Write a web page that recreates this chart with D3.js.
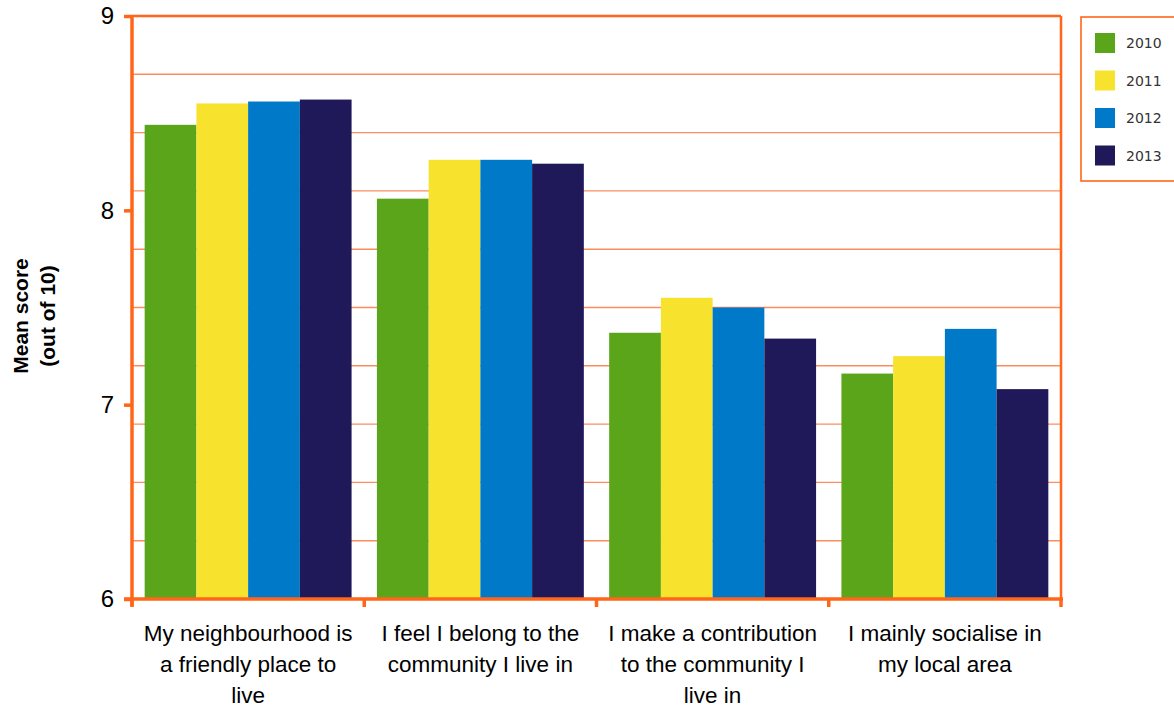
<!DOCTYPE html>
<html><head><meta charset="utf-8">
<script src="https://cdn.jsdelivr.net/npm/d3@7"></script>
<style>body{margin:0;background:#fff}svg{display:block}</style>
</head><body>
<svg id="c" width="1174" height="713"></svg>
<script>
const categories = [
  ["My neighbourhood is","a friendly place to","live"],
  ["I feel I belong to the","community I live in"],
  ["I make a contribution","to the community I","live in"],
  ["I mainly socialise in","my local area"]
];
const years = ["2010","2011","2012","2013"];
const v2010 = [8.44, 8.06, 7.37, 7.16];
const v2011 = [8.55, 8.26, 7.55, 7.25];
const v2012 = [8.56, 8.26, 7.50, 7.39];
const v2013 = [8.57, 8.24, 7.34, 7.08];
const yTicks = [6,7,8,9];
const gridVals = [6.3,6.6,6.9,7.2,7.5,7.8,8.1,8.4,8.7];
const colors = ["#5aa519","#f7e22e","#0079c8","#1f1859"];
const series = [v2010, v2011, v2012, v2013];

const svg = d3.select("#c");
const L = 132, R = 1061, T = 16, B = 599;
const x = d3.scaleBand().domain(d3.range(categories.length)).range([L, R]).paddingInner(0).paddingOuter(0);
const inner = d3.scaleBand().domain(years).range([0, x.bandwidth()]).paddingInner(0).paddingOuter(0.245);
const y = d3.scaleLinear().domain([6,9]).range([B, T]);
const axisCol = "#ff661a";

// gridlines
svg.append("g").selectAll("line").data(gridVals).join("line")
  .attr("x1", L).attr("x2", R).attr("y1", d=>y(d)).attr("y2", d=>y(d))
  .attr("stroke", "#fb8d5e").attr("stroke-width", 1.4);
svg.append("line").attr("x1", L).attr("x2", R).attr("y1", y(9)).attr("y2", y(9))
  .attr("stroke", axisCol).attr("stroke-width", 2.5);
svg.append("line").attr("x1", R).attr("x2", R).attr("y1", T).attr("y2", B)
  .attr("stroke", axisCol).attr("stroke-width", 2.5);

// bars
const g = svg.append("g");
series.forEach((s, si) => {
  g.selectAll(".b"+si).data(s).join("rect")
    .attr("x", (d,i) => x(i) + inner(years[si]))
    .attr("width", inner.bandwidth())
    .attr("y", d => y(d))
    .attr("height", d => B - y(d))
    .attr("fill", colors[si]);
});

// y axis
const ya = svg.append("g").attr("transform", `translate(${L},0)`)
  .call(d3.axisLeft(y).tickValues(yTicks).tickFormat(d3.format("d")).tickSize(8).tickPadding(10));
ya.select(".domain").attr("stroke", axisCol).attr("stroke-width", 3.5);
ya.selectAll(".tick line").attr("stroke", axisCol).attr("stroke-width", 3.5);
ya.selectAll(".tick text").attr("font-family", "Liberation Sans, Arial, sans-serif").attr("font-size", 24).attr("fill", "#000");
ya.select(".domain").attr("d", `M0,${T}V${B+7}`);

// x axis
const xa = svg.append("g").attr("transform", `translate(0,${B})`);
xa.append("line").attr("x1", L-8).attr("x2", R+2).attr("y1", 0).attr("y2", 0).attr("stroke", axisCol).attr("stroke-width", 3.5);
const xt = d3.range(categories.length + 1).map(i => i < categories.length ? x(i) : R);
xa.selectAll(".xt").data(xt).join("line").attr("x1", d=>d).attr("x2", d=>d).attr("y1", 0).attr("y2", 8)
  .attr("stroke", axisCol).attr("stroke-width", 3.5);
const lab = xa.selectAll(".lab").data(categories).join("text")
  .attr("transform", (d,i) => `translate(${x(i) + x.bandwidth()/2},42)`)
  .attr("text-anchor", "middle").attr("font-family", "Liberation Sans, Arial, sans-serif")
  .attr("font-size", 22.5).attr("fill", "#000");
lab.selectAll("tspan").data(d => d).join("tspan").attr("x", 0).attr("dy", (d,i) => i ? 31 : 0).text(d => d);

// y title
const yt = svg.append("text").attr("transform", "translate(0,316) rotate(-90)")
  .attr("text-anchor", "middle").attr("font-family", "Liberation Sans, Arial, sans-serif")
  .attr("font-weight", "bold").attr("font-size", 21).attr("fill", "#000");
yt.append("tspan").attr("x", 0).attr("y", 28).text("Mean score");
yt.append("tspan").attr("x", 0).attr("y", 55).text("(out of 10)");

// legend
const lg = svg.append("g");
lg.append("rect").attr("x", 1081).attr("y", 17).attr("width", 110).attr("height", 164)
  .attr("fill", "#fff").attr("stroke", axisCol).attr("stroke-width", 1.6);
const li = lg.selectAll(".li").data(years).join("g").attr("transform", (d,i) => `translate(1095,${33 + i*37.5})`);
li.append("rect").attr("width", 20).attr("height", 20).attr("fill", (d,i) => colors[i]);
li.append("text").attr("x", 31).attr("y", 15).attr("font-family", "DejaVu Sans, sans-serif").attr("font-size", 14)
  .attr("fill", "#333").text(d => d);
</script>
</body></html>
